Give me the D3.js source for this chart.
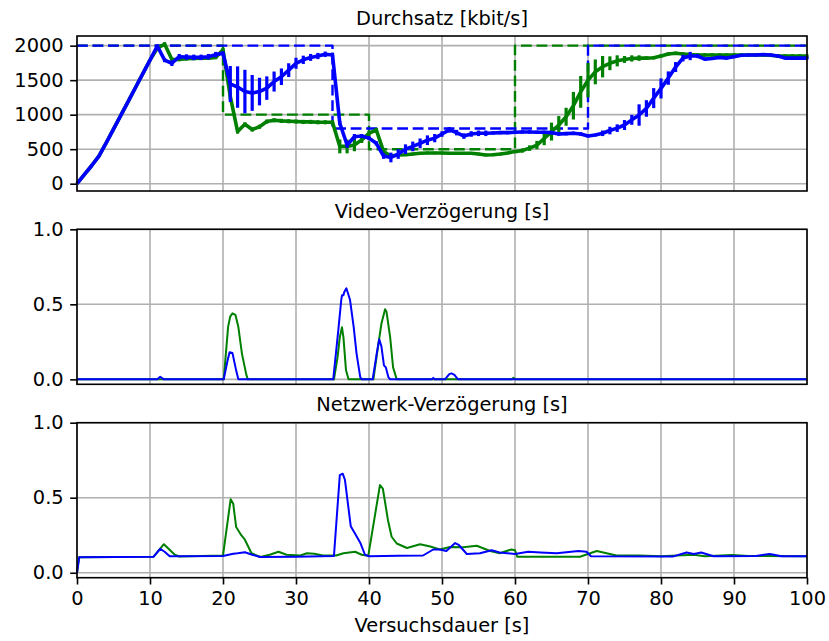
<!DOCTYPE html>
<html>
<head>
<meta charset="utf-8">
<script src="https://cdnjs.cloudflare.com/ajax/libs/d3/7.8.5/d3.min.js"></script>
<style>
body { margin: 0; background: #fff; }
svg text { font-family: "DejaVu Sans", sans-serif; font-size: 19.4px; fill: #000; }
</style>
</head>
<body>
<script>
// Durchsatz in kbit/s, ein Wert pro Sekunde (0..100 s)
var sekunden = d3.range(0, 101);
var durchsatzBlau = [
    0, 130, 260, 400, 590, 790, 990, 1190, 1390, 1590,
    1790, 1995, 1790, 1745, 1840, 1835, 1830, 1830, 1840, 1870,
    1890, 1445, 1400, 1335, 1315, 1335, 1385, 1480, 1550, 1645,
    1745, 1795, 1830, 1850, 1875, 1865, 875, 560, 680, 690,
    660, 585, 400, 380, 430, 500, 540, 585, 630, 660,
    720, 780, 740, 690, 720, 730, 730, 735, 740, 740,
    745, 750, 750, 745, 745, 740, 720, 725, 730, 720,
    690, 705, 730, 770, 805, 850, 925, 995, 1090, 1240,
    1380, 1530, 1690, 1820, 1850, 1850, 1805, 1815, 1830, 1820,
    1840, 1860, 1865, 1865, 1870, 1865, 1850, 1820, 1820, 1820,
    1820
];
var fehlerBlau = [
    0, 0, 0, 0, 0, 0, 0, 0, 0, 0,
    0, 20, 30, 40, 40, 40, 40, 40, 40, 40,
    30, 260, 300, 315, 260, 200, 170, 145, 120, 100,
    80, 60, 50, 45, 40, 35, 30, 40, 40, 30,
    30, 30, 40, 70, 70, 70, 70, 70, 70, 60,
    40, 40, 40, 40, 40, 40, 40, 25, 25, 25,
    25, 25, 25, 25, 25, 25, 25, 25, 25, 25,
    20, 20, 40, 55, 55, 72, 72, 155, 120, 145,
    145, 97, 72, 48, 60, 30, 20, 20, 20, 20,
    20, 20, 20, 20, 20, 20, 20, 20, 20, 20,
    20
];
var durchsatzGruen = [
    0, 130, 260, 400, 590, 790, 990, 1190, 1390, 1590,
    1790, 1960, 2025, 1800, 1800, 1810, 1815, 1820, 1820, 1830,
    1940, 1260, 755, 860, 785, 825, 900, 920, 910, 905,
    900, 895, 895, 890, 890, 890, 540, 540, 560, 635,
    730, 780, 465, 400, 415, 420, 430, 440, 445, 445,
    445, 440, 440, 440, 440, 430, 415, 420, 430, 445,
    465, 480, 515, 560, 655, 755, 850, 970, 1130, 1330,
    1500, 1620, 1695, 1745, 1780, 1800, 1815, 1820, 1820, 1825,
    1850, 1880, 1890, 1880, 1870, 1865, 1865, 1865, 1865, 1865,
    1865, 1865, 1865, 1865, 1865, 1860, 1850, 1850, 1850, 1850,
    1850
];
var fehlerGruen = [
    0, 0, 0, 0, 0, 0, 0, 0, 0, 0,
    0, 25, 25, 25, 25, 25, 25, 25, 25, 25,
    25, 40, 30, 30, 30, 30, 30, 30, 30, 30,
    30, 30, 30, 30, 30, 30, 100, 100, 90, 45,
    35, 30, 20, 20, 20, 20, 20, 20, 20, 20,
    20, 20, 20, 20, 20, 20, 20, 20, 20, 20,
    20, 30, 40, 60, 97, 130, 130, 130, 200, 230,
    250, 180, 155, 100, 80, 50, 45, 40, 25, 25,
    25, 25, 25, 25, 25, 25, 25, 25, 25, 25,
    25, 25, 25, 25, 25, 25, 25, 25, 25, 25,
    25
];

// Vorgegebene Datenrate (Stufen, gestrichelt)
var zielBlauZeit = [0, 35, 70, 100];
var zielBlauWert = [2000, 800, 2000, 2000];
var zielGruenZeit = [0, 20, 40, 60, 100];
var zielGruenWert = [2000, 1000, 500, 2000, 2000];

// Video-Verzoegerung in s, [Zeit, Wert]
var videoBlau = [[0,0],[11.0,0],[11.4,0.017],[11.9,0],[20.1,0],[20.6,0.12],[20.9,0.18],[21.3,0.175],
    [21.8,0.06],[22.1,0],[35.1,0],[35.8,0.33],[36.2,0.53],[36.3,0.56],[36.5,0.56],[36.6,0.58],
    [36.9,0.607],[37.4,0.53],[37.9,0.35],[38.3,0.17],[38.8,0.015],[39.0,0],[40.5,0],[41.05,0.17],
    [41.4,0.267],[41.7,0.22],[42.05,0.093],[42.3,0.08],[42.65,0.015],[42.9,0],[48.6,0],[48.8,0.01],
    [49.0,0],[50.4,0],[51.0,0.035],[51.3,0.04],[51.7,0.03],[52.2,0],[100,0]];
var videoGruen = [[0,0],[20.1,0],[20.7,0.35],[21.0,0.42],[21.3,0.44],[21.7,0.43],[22.1,0.35],[22.6,0.17],
    [23.2,0.03],[23.4,0],[35.2,0],[35.7,0.15],[36.0,0.28],[36.3,0.347],[36.5,0.28],[36.85,0.06],
    [37.2,0],[40.6,0],[41.3,0.24],[41.7,0.37],[42.2,0.467],[42.4,0.45],[42.9,0.28],[43.3,0.08],
    [43.8,0],[59.5,0],[59.8,0.01],[60.1,0],[100,0]];

// Netzwerk-Verzoegerung in s, [Zeit, Wert]
var netzBlau = [[0,0],[0.3,0.104],[10.5,0.107],[11.4,0.16],[12.0,0.14],[12.7,0.11],[20,0.112],[21.4,0.127],
    [22,0.13],[23,0.137],[24,0.12],[25.1,0.105],[30,0.107],[35.2,0.112],[36.0,0.65],[36.4,0.66],
    [36.7,0.62],[37.5,0.31],[38.1,0.26],[38.8,0.2],[39.45,0.12],[40,0.11],[44,0.113],[47.4,0.115],
    [48.8,0.155],[49.7,0.155],[50.6,0.145],[51.8,0.198],[52.3,0.185],[53.4,0.125],[55.2,0.13],
    [56.8,0.15],[57.9,0.135],[60.0,0.125],[61.8,0.14],[63.5,0.135],[65.7,0.13],[68.7,0.145],
    [69.8,0.14],[70.4,0.11],[81.7,0.109],[83.5,0.135],[84.5,0.125],[85.5,0.135],[87.2,0.11],
    [93,0.112],[94.9,0.125],[96.5,0.11],[100,0.11]];
var netzGruen = [[0,0],[0.3,0.104],[10.5,0.107],[11.9,0.19],[13.4,0.12],[14,0.108],[20.0,0.115],
    [21.05,0.49],[21.4,0.46],[21.8,0.305],[22.5,0.25],[23.0,0.22],[23.9,0.13],[25.1,0.105],
    [26.4,0.12],[27.6,0.14],[28.7,0.12],[30.6,0.115],[31.5,0.13],[32.5,0.127],[33.7,0.115],
    [35.5,0.115],[36.5,0.13],[38.1,0.14],[39.0,0.12],[39.9,0.113],[41.5,0.584],[41.9,0.56],
    [42.6,0.35],[43.1,0.24],[43.8,0.195],[45.2,0.165],[47.0,0.19],[48.4,0.175],[49.7,0.155],
    [51.1,0.172],[52.9,0.17],[54.75,0.18],[56.6,0.145],[57.9,0.13],[59.5,0.155],[60.0,0.15],
    [60.3,0.107],[68.9,0.107],[71.2,0.145],[73.9,0.115],[77,0.115],[80,0.11],[84.5,0.12],
    [86,0.11],[89.7,0.118],[92,0.112],[100,0.11]];

var xTicks = [0, 10, 20, 30, 40, 50, 60, 70, 80, 90, 100];
var durchsatzTicks = [0, 500, 1000, 1500, 2000];
var verzTicks = [0, 0.5, 1.0];

var BLAU = "#0000ff", GRUEN = "#008000";
var width = 829, height = 641;
var left = 77, right = 807, panelH = 155;

var svg = d3.select("body").append("svg")
    .attr("width", width)
    .attr("height", height);
svg.append("rect").attr("width", width).attr("height", height).attr("fill", "#fff");

var x = d3.scaleLinear().domain([0, 100]).range([left, right]);

function panel(top, yDomain, yTicks, yFormat, title, mitXBeschriftung) {
    var y = d3.scaleLinear().domain(yDomain).range([top + panelH, top]);
    var g = svg.append("g");

    // Gitter
    g.selectAll(".gx").data(xTicks).enter().append("line")
        .attr("x1", function(d) { return x(d); })
        .attr("x2", function(d) { return x(d); })
        .attr("y1", top).attr("y2", top + panelH)
        .attr("stroke", "#b0b0b0").attr("stroke-width", 1.6);
    g.selectAll(".gy").data(yTicks).enter().append("line")
        .attr("x1", left).attr("x2", right)
        .attr("y1", function(d) { return y(d); })
        .attr("y2", function(d) { return y(d); })
        .attr("stroke", "#b0b0b0").attr("stroke-width", 1.6);

    // y-Achse
    var yAxis = d3.axisLeft(y).tickValues(yTicks).tickFormat(yFormat)
        .tickSize(6.8).tickPadding(6.5);
    var ya = g.append("g").attr("transform", "translate(" + left + ",0)").call(yAxis);
    ya.select(".domain").remove();
    ya.selectAll("line").attr("stroke", "#000").attr("stroke-width", 1.6);
    ya.selectAll("text").attr("font-size", null).attr("font-family", null);

    if (mitXBeschriftung) {
        var xAxis = d3.axisBottom(x).tickValues(xTicks).tickFormat(d3.format("d"))
            .tickSize(6.8).tickPadding(6.5);
        var xa = g.append("g").attr("transform", "translate(0," + (top + panelH) + ")").call(xAxis);
        xa.select(".domain").remove();
        xa.selectAll("line").attr("stroke", "#000").attr("stroke-width", 1.6);
        xa.selectAll("text").attr("font-size", null).attr("font-family", null);
    }

    g.append("text")
        .attr("x", (left + right) / 2)
        .attr("y", top - 11.5)
        .attr("text-anchor", "middle")
        .text(title);

    var plot = g.append("g");
    var rahmen = g.append("rect")
        .attr("x", left).attr("y", top)
        .attr("width", right - left).attr("height", panelH)
        .attr("fill", "none").attr("stroke", "#000").attr("stroke-width", 1.6);
    return {y: y, plot: plot};
}

function linie(p, y, punkte, farbe, breite, strich, kurve) {
    var line = d3.line()
        .x(function(d) { return x(d[0]); })
        .y(function(d) { return y(d[1]); })
        .curve(kurve || d3.curveLinear);
    p.append("path")
        .datum(punkte)
        .attr("d", line)
        .attr("fill", "none")
        .attr("stroke", farbe)
        .attr("stroke-width", breite)
        .attr("stroke-linejoin", "round")
        .attr("stroke-dasharray", strich || null);
}

function fehlerbalken(p, y, werte, fehler, farbe) {
    p.selectAll(null).data(sekunden.filter(function(t) { return fehler[t] > 0; }))
        .enter().append("line")
        .attr("x1", function(t) { return x(t); })
        .attr("x2", function(t) { return x(t); })
        .attr("y1", function(t) { return y(werte[t] - fehler[t]); })
        .attr("y2", function(t) { return y(werte[t] + fehler[t]); })
        .attr("stroke", farbe)
        .attr("stroke-width", 3.2);
}

// Panel 1: Durchsatz
var p1 = panel(36, [-106, 2140], durchsatzTicks, d3.format("d"), "Durchsatz [kbit/s]", false);
linie(p1.plot, p1.y, zielGruenZeit.map(function(t, i) { return [t, zielGruenWert[i]]; }),
    GRUEN, 2.4, "10.8,4.7", d3.curveStepAfter);
linie(p1.plot, p1.y, zielBlauZeit.map(function(t, i) { return [t, zielBlauWert[i]]; }),
    BLAU, 2.4, "10.8,4.7", d3.curveStepAfter);
linie(p1.plot, p1.y, sekunden.map(function(t) { return [t, durchsatzGruen[t]]; }), GRUEN, 3.6);
fehlerbalken(p1.plot, p1.y, durchsatzGruen, fehlerGruen, GRUEN);
linie(p1.plot, p1.y, sekunden.map(function(t) { return [t, durchsatzBlau[t]]; }), BLAU, 3.6);
fehlerbalken(p1.plot, p1.y, durchsatzBlau, fehlerBlau, BLAU);

// Panel 2: Video-Verzoegerung
var p2 = panel(229.3, [-0.033, 1.0], verzTicks, d3.format(".1f"), "Video-Verzögerung [s]", false);
linie(p2.plot, p2.y, videoGruen, GRUEN, 2);
linie(p2.plot, p2.y, videoBlau, BLAU, 2);

// Panel 3: Netzwerk-Verzoegerung
var p3 = panel(422.7, [-0.033, 1.0], verzTicks, d3.format(".1f"), "Netzwerk-Verzögerung [s]", true);
linie(p3.plot, p3.y, netzGruen, GRUEN, 2);
linie(p3.plot, p3.y, netzBlau, BLAU, 2);

svg.append("text")
    .attr("x", (left + right) / 2)
    .attr("y", 632)
    .attr("text-anchor", "middle")
    .text("Versuchsdauer [s]");
</script>
</body>
</html>
